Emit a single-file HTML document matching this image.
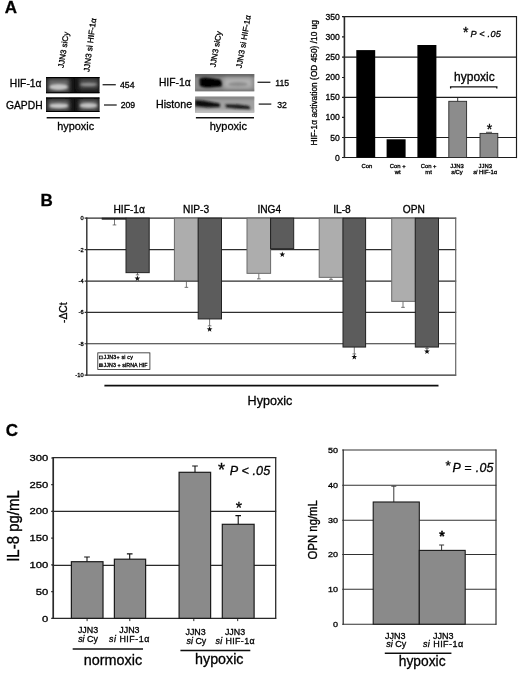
<!DOCTYPE html>
<html><head><meta charset="utf-8">
<style>
html,body{margin:0;padding:0;background:#fff;}
body{width:520px;height:673px;overflow:hidden;font-family:"Liberation Sans",sans-serif;}
svg{display:block;}
text{font-family:"Liberation Sans",sans-serif;fill:#000;stroke:#000;stroke-width:0.3px;}
</style></head><body>
<svg width="520" height="673" viewBox="0 0 520 673">
<defs>
<filter id="b1" x="-30%" y="-60%" width="160%" height="220%"><feGaussianBlur stdDeviation="1.2"/></filter>
<filter id="b2" x="-30%" y="-60%" width="160%" height="220%"><feGaussianBlur stdDeviation="2.2"/></filter>
<filter id="b0" x="-10%" y="-10%" width="120%" height="120%"><feGaussianBlur stdDeviation="0.4"/></filter>
<clipPath id="cg1"><rect x="46" y="77" width="53.5" height="16.2"/></clipPath>
<clipPath id="cg2"><rect x="46" y="97.5" width="53.5" height="14.5"/></clipPath>
<clipPath id="cw1"><rect x="195" y="74" width="59.3" height="17.3"/></clipPath>
<clipPath id="cw2"><rect x="195" y="96.6" width="59.3" height="16"/></clipPath>
</defs>
<rect width="520" height="673" fill="#fff"/>
<g filter="url(#b0)">
<!-- ===== PANEL A ===== -->
<text x="4.8" y="12.9" font-size="17" font-weight="bold">A</text>

<!-- gel 1 -->
<g id="gelA">
<rect x="46" y="77" width="53.5" height="16.2" fill="#111"/>
<g clip-path="url(#cg1)">
<rect x="47.5" y="78.5" width="22" height="13.5" fill="#6a6a6a" filter="url(#b2)"/>
<rect x="79" y="78" width="19.5" height="11.5" fill="#4c4c4c" filter="url(#b2)"/>
<ellipse cx="58.6" cy="86.9" rx="9.2" ry="3" fill="#c4c4c4" filter="url(#b1)"/>
<ellipse cx="88.6" cy="84.5" rx="8.6" ry="1.8" fill="#909090" filter="url(#b1)"/>
<rect x="46" y="76.5" width="54" height="1.6" fill="#000" filter="url(#b0)"/>
<rect x="46" y="92.2" width="54" height="1.5" fill="#000" filter="url(#b0)"/>
</g>
<rect x="46" y="97.5" width="53.5" height="14.5" fill="#111"/>
<g clip-path="url(#cg2)">
<rect x="47.5" y="99.5" width="22" height="11.5" fill="#666" filter="url(#b2)"/>
<rect x="79" y="99.5" width="19.5" height="11.5" fill="#666" filter="url(#b2)"/>
<ellipse cx="58.8" cy="105.8" rx="9.5" ry="2.4" fill="#c8c8c8" filter="url(#b1)"/>
<ellipse cx="88.5" cy="105.4" rx="8.8" ry="2.5" fill="#c2c2c2" filter="url(#b1)"/>
<rect x="46" y="97" width="54" height="1.6" fill="#000" filter="url(#b0)"/>
<rect x="46" y="111" width="54" height="1.5" fill="#000" filter="url(#b0)"/>
</g>
</g>
<line x1="46.7" y1="117.8" x2="99.9" y2="117.8" stroke="#111" stroke-width="1.4"/>
<text x="75.7" y="130" font-size="10.9" text-anchor="middle">hypoxic</text>
<text x="41.5" y="87.4" font-size="10.3" text-anchor="end">HIF-1α</text>
<text x="42.6" y="109.3" font-size="10.3" text-anchor="end">GAPDH</text>
<line x1="102.6" y1="84.7" x2="115.8" y2="84.7" stroke="#333" stroke-width="1.4"/>
<line x1="104" y1="105" x2="116.7" y2="105" stroke="#333" stroke-width="1.4"/>
<text x="120" y="87.9" font-size="8.7" stroke-width="0.5">454</text>
<text x="120.7" y="108.2" font-size="8.7" stroke-width="0.5">209</text>
<text transform="translate(63.6,68.2) rotate(-81.5)" font-size="8.1">JJN3 siCy</text>
<text transform="translate(89.2,72.3) rotate(-82.5)" font-size="8.2">JJN3 si HIF-1α</text>

<!-- western -->
<g id="wb">
<rect x="195" y="74" width="59.3" height="17.3" fill="#8a8a8a"/>
<g clip-path="url(#cw1)">
<rect x="195" y="72.5" width="60" height="4.5" fill="#646464" filter="url(#b1)"/>
<rect x="195" y="89.5" width="60" height="3" fill="#707070" filter="url(#b1)"/>
<rect x="224" y="78" width="28" height="10" fill="#b2b2b2" filter="url(#b2)"/>
<ellipse cx="238" cy="84.3" rx="10" ry="2.2" fill="#8e8e8e" filter="url(#b1)"/>
<path d="M199.5,78.5 Q204,76.8 212,78.2 L220,79.5 Q222.5,82 221.5,86.5 L210,87.5 Q202,87.8 199.8,85.5 Z" fill="#050505" filter="url(#b1)"/>
</g>
<rect x="195" y="96.6" width="59.3" height="16" fill="#a0a0a0"/>
<g clip-path="url(#cw2)">
<rect x="195" y="96" width="60" height="3.5" fill="#858585" filter="url(#b1)"/>
<rect x="195" y="110" width="60" height="4" fill="#bdbdbd" filter="url(#b1)"/>
<path d="M195,100 L203,100.6 L219.8,103.5 L220,107 L208,107.6 L195,106.2 Z" fill="#101010" filter="url(#b1)"/>
<path d="M225.5,104.2 L238,104.6 L249,106 L250.5,109.2 L238,108.8 L226,107.6 Z" fill="#1c1c1c" filter="url(#b1)"/>
</g>
</g>
<line x1="195.9" y1="117.8" x2="254" y2="117.8" stroke="#111" stroke-width="1.5"/>
<text x="228.3" y="129.6" font-size="11" text-anchor="middle">hypoxic</text>
<text x="190.6" y="85.9" font-size="10.3" text-anchor="end">HIF-1α</text>
<text x="192.2" y="107.5" font-size="10.7" text-anchor="end">Histone</text>
<line x1="257.5" y1="82.3" x2="270.4" y2="82.3" stroke="#333" stroke-width="1.4"/>
<line x1="258.7" y1="104.1" x2="271.3" y2="104.1" stroke="#333" stroke-width="1.4"/>
<text x="275.3" y="85.6" font-size="8.7" stroke-width="0.5">115</text>
<text x="277.2" y="108" font-size="8.7" stroke-width="0.5">32</text>
<text transform="translate(215.4,67.6) rotate(-80)" font-size="8.1">JJN3 siCy</text>
<text transform="translate(241.6,68.6) rotate(-80)" font-size="8.1">JJN3 si HIF-1α</text>

<!-- bar chart A -->
<g id="chartA">
<g stroke="#1c1c1c" stroke-width="1.15" fill="none">
<line x1="343.6" y1="16.6" x2="517" y2="16.6"/>
<line x1="343.6" y1="57.1" x2="517" y2="57.1"/>
<line x1="343.6" y1="97.4" x2="517" y2="97.4"/>
<line x1="343.6" y1="137.5" x2="517" y2="137.5"/>
<line x1="343.6" y1="157.5" x2="517" y2="157.5"/>
<line x1="344.4" y1="16" x2="344.4" y2="158.1" stroke-width="1.6" stroke="#2a2a2a"/>
<line x1="516.5" y1="16" x2="516.5" y2="158.1"/>
<path d="M342,16.6h2M342,36.9h2M342,57.1h2M342,77.5h2M342,97.4h2M342,117.4h2M342,137.5h2M342,157.5h2"/>
</g>
<rect x="356.3" y="50.1" width="18.9" height="107.4" fill="#050505"/>
<rect x="386.6" y="139.3" width="19" height="18.2" fill="#050505"/>
<rect x="417.4" y="45" width="19" height="112.5" fill="#050505"/>
<line x1="457.7" y1="97.2" x2="457.7" y2="101.5" stroke="#222" stroke-width="0.9"/>
<rect x="448.8" y="101.3" width="17.8" height="56.2" fill="#8c8c8c" stroke="#2a2a2a" stroke-width="0.9"/>
<rect x="480" y="133.4" width="17.8" height="24.1" fill="#8c8c8c" stroke="#2a2a2a" stroke-width="0.9"/>
<path d="M486,132.3h6" stroke="#222" stroke-width="0.8"/>
<g font-size="8.6" text-anchor="end">
<text x="339.8" y="19.7">350</text>
<text x="339.8" y="39.9">300</text>
<text x="339.8" y="60">250</text>
<text x="339.8" y="80.1">200</text>
<text x="339.8" y="100.3">150</text>
<text x="339.8" y="120.4">100</text>
<text x="339.8" y="140.5">50</text>
<text x="339.8" y="160.6">0</text>
</g>
<g font-size="5.9" text-anchor="middle" fill="#383838" stroke-width="0">
<text x="366.8" y="168.3">Con</text>
<text x="397.8" y="168.3">Con +</text>
<text x="397.8" y="174.3">wt</text>
<text x="428.6" y="168.3">Con +</text>
<text x="428.6" y="174.3">mt</text>
<text x="457" y="168.3">JJN3</text>
<text x="457" y="174.3"><tspan font-style="italic">si</tspan>Cy</text>
<text x="485.2" y="168.3">JJN3</text>
<text x="485.2" y="174.3"><tspan font-style="italic">si</tspan> HIF-1α</text>
</g>
<text transform="translate(317,145.6) rotate(-90)" font-size="8.2" textLength="125.5" stroke-width="0.55" fill="#111">HIF-1α activation (OD 450) /10 ug</text>
<text x="463" y="36.5" font-size="14">*</text>
<text x="470.4" y="37.4" font-size="9.1" font-style="italic" textLength="30.4">P &lt; .05</text>
<text x="474.4" y="81.2" font-size="12" text-anchor="middle">hypoxic</text>
<path d="M450.6,88.5V86.8H496.8V88.5" stroke="#111" stroke-width="1.3" fill="none"/>
<text x="489.4" y="133.6" font-size="14" text-anchor="middle" stroke-width="0.5">*</text>
</g>

<!-- ===== PANEL B ===== -->
<text x="40.6" y="205.6" font-size="17" font-weight="bold">B</text>
<g id="chartB" transform="translate(0,0.35)">
<g stroke="#2e2e2e" stroke-width="1.2" fill="none">
<line x1="86.2" y1="217.8" x2="456.2" y2="217.8"/>
<line x1="86.2" y1="249.3" x2="456.2" y2="249.3"/>
<line x1="86.2" y1="280.7" x2="456.2" y2="280.7"/>
<line x1="86.2" y1="312.1" x2="456.2" y2="312.1"/>
<line x1="86.2" y1="343.4" x2="456.2" y2="343.4"/>
<line x1="86.2" y1="374.8" x2="456.2" y2="374.8"/>
<line x1="86.8" y1="217.2" x2="86.8" y2="375.4" stroke-width="1.4"/>
<path d="M84.6,217.8h2M84.6,249.3h2M84.6,280.7h2M84.6,312.1h2M84.6,343.4h2M84.6,374.8h2"/>
</g>
<line x1="455.7" y1="217.2" x2="455.7" y2="375.4" stroke="#666" stroke-width="1.2"/>
<!-- error bars -->
<g stroke="#555" stroke-width="0.8" fill="none">
<path d="M114.5,218V224.6M112.7,224.6h3.6"/>
<path d="M137.5,272V274.5M135.8,274.5h3.4"/>
<path d="M186.4,280V287M184.6,287h3.6"/>
<path d="M209.6,318V325.5M207.8,325.5h3.6"/>
<path d="M258.8,273V278.5M257,278.5h3.6"/>
<path d="M331,277V279M329.2,279h3.6"/>
<path d="M354.3,346V353.6M352.5,353.6h3.6"/>
<path d="M403,301V307M401.2,307h3.6"/>
<path d="M427,346.5V348M425.2,348h3.6"/>
</g>
<g stroke="#222" stroke-width="1">
<rect x="102.2" y="217.8" width="23.8" height="1" fill="#222" stroke="#222"/>
<rect x="126" y="217.8" width="23.2" height="54.5" fill="#5c5c5c"/>
<rect x="174.4" y="217.8" width="23.8" height="62.6" fill="#adadad" stroke="#6a6a6a"/>
<rect x="198.2" y="217.8" width="23.3" height="100.8" fill="#5c5c5c"/>
<rect x="247" y="217.8" width="23.6" height="55.2" fill="#adadad" stroke="#6a6a6a"/>
<rect x="270.6" y="217.8" width="23.1" height="30.5" fill="#5c5c5c"/>
<rect x="319.2" y="217.8" width="23.8" height="59.2" fill="#adadad" stroke="#6a6a6a"/>
<rect x="343" y="217.8" width="22.6" height="128.9" fill="#5c5c5c"/>
<rect x="391.7" y="217.8" width="23.6" height="83.2" fill="#adadad" stroke="#6a6a6a"/>
<rect x="415.3" y="217.8" width="23.2" height="128.9" fill="#5c5c5c"/>
</g>
<g>
<polygon transform="translate(137.4,278.2)" points="0.00,-3.00 0.73,-1.01 2.85,-0.93 1.19,0.39 1.76,2.43 0.00,1.25 -1.76,2.43 -1.19,0.39 -2.85,-0.93 -0.73,-1.01" fill="#111"/>
<polygon transform="translate(209.6,329)" points="0.00,-3.00 0.73,-1.01 2.85,-0.93 1.19,0.39 1.76,2.43 0.00,1.25 -1.76,2.43 -1.19,0.39 -2.85,-0.93 -0.73,-1.01" fill="#111"/>
<polygon transform="translate(282.3,254.2)" points="0.00,-3.00 0.73,-1.01 2.85,-0.93 1.19,0.39 1.76,2.43 0.00,1.25 -1.76,2.43 -1.19,0.39 -2.85,-0.93 -0.73,-1.01" fill="#111"/>
<polygon transform="translate(354.3,356.6)" points="0.00,-3.00 0.73,-1.01 2.85,-0.93 1.19,0.39 1.76,2.43 0.00,1.25 -1.76,2.43 -1.19,0.39 -2.85,-0.93 -0.73,-1.01" fill="#111"/>
<polygon transform="translate(427,351.2)" points="0.00,-3.00 0.73,-1.01 2.85,-0.93 1.19,0.39 1.76,2.43 0.00,1.25 -1.76,2.43 -1.19,0.39 -2.85,-0.93 -0.73,-1.01" fill="#111"/>
</g>
<g font-size="5.7" text-anchor="end" fill="#222" stroke-width="0.25">
<text x="83.6" y="219.8">0</text>
<text x="83.6" y="251.3">-2</text>
<text x="83.6" y="282.7">-4</text>
<text x="83.6" y="314.1">-6</text>
<text x="83.6" y="345.4">-8</text>
<text x="83.6" y="376.8">-10</text>
</g>
<g font-size="10.2" text-anchor="middle">
<text x="129.2" y="212.7">HIF-1α</text>
<text x="196.1" y="212.7">NIP-3</text>
<text x="269.3" y="212.7">ING4</text>
<text x="342" y="212.7">IL-8</text>
<text x="413.8" y="212.7">OPN</text>
</g>
<text transform="translate(67.4,312.3) rotate(-90)" font-size="10.3" text-anchor="middle">-ΔCt</text>
<rect x="97.8" y="352.5" width="52.1" height="16.6" fill="#fff" stroke="#222" stroke-width="0.8"/>
<rect x="99.5" y="355.7" width="2.8" height="2.8" fill="#e4e4e4" stroke="#111" stroke-width="0.8"/>
<rect x="99.5" y="363.5" width="2.8" height="2.8" fill="#555" stroke="#111" stroke-width="0.8"/>
<text x="103.6" y="358.9" font-size="5.3" fill="#333" stroke-width="0.1" textLength="29.2">JJN3+ si cy</text>
<text x="103.6" y="366.6" font-size="5.3" fill="#333" stroke-width="0.1" textLength="44">JJN3 + siRNA HIF</text>
</g>
<line x1="104.4" y1="385.6" x2="438.5" y2="385.6" stroke="#111" stroke-width="1.8"/>
<text x="270" y="405" font-size="12.6" text-anchor="middle">Hypoxic</text>

<!-- ===== PANEL C ===== -->
<text x="5.7" y="436" font-size="17" font-weight="bold">C</text>
<g id="chartC1">
<g stroke="#2a2a2a" stroke-width="1.2" fill="none">
<line x1="52.4" y1="457.7" x2="276.2" y2="457.7"/>
<line x1="52.4" y1="511.3" x2="276.2" y2="511.3"/>
<line x1="52.4" y1="565.3" x2="276.2" y2="565.3"/>
<line x1="52.4" y1="618.3" x2="276.2" y2="618.3"/>
<line x1="53.2" y1="457.4" x2="53.2" y2="618.9" stroke-width="1.7"/>
<line x1="275.7" y1="457" x2="275.7" y2="618.9" stroke-width="1.3"/>
<path d="M51.2,458h2M51.2,484.7h2M51.2,511.3h2M51.2,538.1h2M51.2,564.9h2M51.2,591.6h2M51.2,618.3h2"/>
<path d="M87.1,618.3v2.8M129.8,618.3v2.8M193.8,618.3v2.8M237.7,618.3v2.8" stroke-width="1"/>
</g>
<g stroke="#111" stroke-width="1.1" fill="none">
<path d="M87,562V557M84.2,557h5.6"/>
<path d="M129.7,559.5V553.9M126.9,553.9h5.6"/>
<path d="M195,472.5V466M192.2,466h5.6"/>
<path d="M238.2,524V515.6M235.4,515.6h5.6"/>
</g>
<g stroke="#1a1a1a" stroke-width="1.2" fill="#8a8a8a">
<rect x="71.4" y="561.7" width="31.6" height="56.6"/>
<rect x="114.4" y="559.2" width="31.2" height="59.1"/>
<rect x="179.1" y="472.3" width="31.5" height="146"/>
<rect x="222.3" y="524.3" width="31.8" height="94"/>
</g>
<g font-size="9" text-anchor="end" stroke-width="0.1">
<text transform="translate(48.2,461.2) scale(1.25,1)">300</text>
<text transform="translate(48.2,487.9) scale(1.25,1)">250</text>
<text transform="translate(48.2,514.4) scale(1.25,1)">200</text>
<text transform="translate(48.2,541.2) scale(1.25,1)">150</text>
<text transform="translate(48.2,568.0) scale(1.25,1)">100</text>
<text transform="translate(48.2,594.8) scale(1.25,1)">50</text>
<text transform="translate(48.2,621.5) scale(1.25,1)">0</text>
</g>
<text transform="translate(18.7,526) rotate(-90) scale(1,1.16)" font-size="15" text-anchor="middle" stroke-width="0.15">IL-8 pg/mL</text>
<g font-size="8.9" text-anchor="middle">
<text x="88" y="633.4">JJN3</text>
<text x="88" y="641.9"><tspan font-style="italic">si</tspan> Cy</text>
<text x="129.4" y="633.4">JJN3</text>
<text x="109" y="641.9" text-anchor="start" textLength="40.3"><tspan font-style="italic">si</tspan> HIF-1α</text>
<text x="195.6" y="635.1">JJN3</text>
<text x="196.4" y="644"><tspan font-style="italic">si</tspan> Cy</text>
<text x="235" y="635.1">JJN3</text>
<text x="215.5" y="644" text-anchor="start" textLength="39.1"><tspan font-style="italic">si</tspan> HIF-1α</text>
</g>
<line x1="72.7" y1="649" x2="143" y2="649" stroke="#111" stroke-width="1.5"/>
<line x1="180.4" y1="650.4" x2="250.3" y2="650.4" stroke="#111" stroke-width="1.5"/>
<text x="113" y="664.6" font-size="14.4" text-anchor="middle">normoxic</text>
<text x="219.3" y="664.2" font-size="14.3" text-anchor="middle">hypoxic</text>
<text x="218" y="475.5" font-size="18">*</text>
<text x="229.8" y="474.8" font-size="12.6" font-style="italic" textLength="40.4">P &lt; .05</text>
<text x="238.8" y="514.4" font-size="16" text-anchor="middle" stroke-width="0.5">*</text>
</g>

<g id="chartC2">
<g stroke="#333" stroke-width="1.05" fill="none">
<line x1="342.2" y1="450" x2="496.4" y2="450"/>
<line x1="342.2" y1="485.3" x2="496.4" y2="485.3"/>
<line x1="342.2" y1="520.2" x2="496.4" y2="520.2"/>
<line x1="342.2" y1="554.4" x2="496.4" y2="554.4"/>
<line x1="342.2" y1="589.2" x2="496.4" y2="589.2"/>
<line x1="342.2" y1="624.2" x2="496.4" y2="624.2"/>
<line x1="343.2" y1="449.5" x2="343.2" y2="624.7" stroke-width="1.3"/>
<line x1="496" y1="449.5" x2="496" y2="624.7" stroke-width="1.2"/>
</g>
<g stroke="#3a3a3a" stroke-width="1" fill="none">
<path d="M393.8,502V486.2M391.3,486.2h5"/>
<path d="M441.6,550.4V545M439.1,545h5"/>
</g>
<g stroke="#1a1a1a" stroke-width="1.1" fill="#8a8a8a">
<rect x="373.2" y="502" width="46.1" height="122.2"/>
<rect x="419.3" y="550.4" width="45.9" height="73.8"/>
</g>
<g font-size="7.9" text-anchor="end" stroke-width="0.1">
<text transform="translate(337.9,452.9) scale(1.14,1)">50</text>
<text transform="translate(337.9,488.2) scale(1.14,1)">40</text>
<text transform="translate(337.9,523.1) scale(1.14,1)">30</text>
<text transform="translate(337.9,557.3) scale(1.14,1)">20</text>
<text transform="translate(337.9,592.1) scale(1.14,1)">10</text>
<text transform="translate(337.9,626.9) scale(1.14,1)">0</text>
</g>
<text transform="translate(317.1,529.8) rotate(-90) scale(1,1.18)" font-size="11.4" text-anchor="middle" stroke-width="0.15">OPN ng/mL</text>
<g font-size="9" text-anchor="middle">
<text x="395.2" y="638.6">JJN3</text>
<text x="396.2" y="647.1"><tspan font-style="italic">si</tspan> Cy</text>
<text x="443.3" y="638.6">JJN3</text>
<text x="422.9" y="647.1" text-anchor="start" textLength="40.2"><tspan font-style="italic">si</tspan> HIF-1α</text>
</g>
<line x1="384.8" y1="653.3" x2="451.4" y2="653.3" stroke="#111" stroke-width="1.5"/>
<text x="422.2" y="666" font-size="13.8" text-anchor="middle">hypoxic</text>
<text x="445.4" y="469.6" font-size="13.5">*</text>
<text x="452.5" y="471.6" font-size="12.4" font-style="italic" textLength="41">P = .05</text>
<text x="442" y="540.8" font-size="14" text-anchor="middle" font-weight="bold" stroke-width="0.2">*</text>
</g>
</g>
</svg>
</body></html>
